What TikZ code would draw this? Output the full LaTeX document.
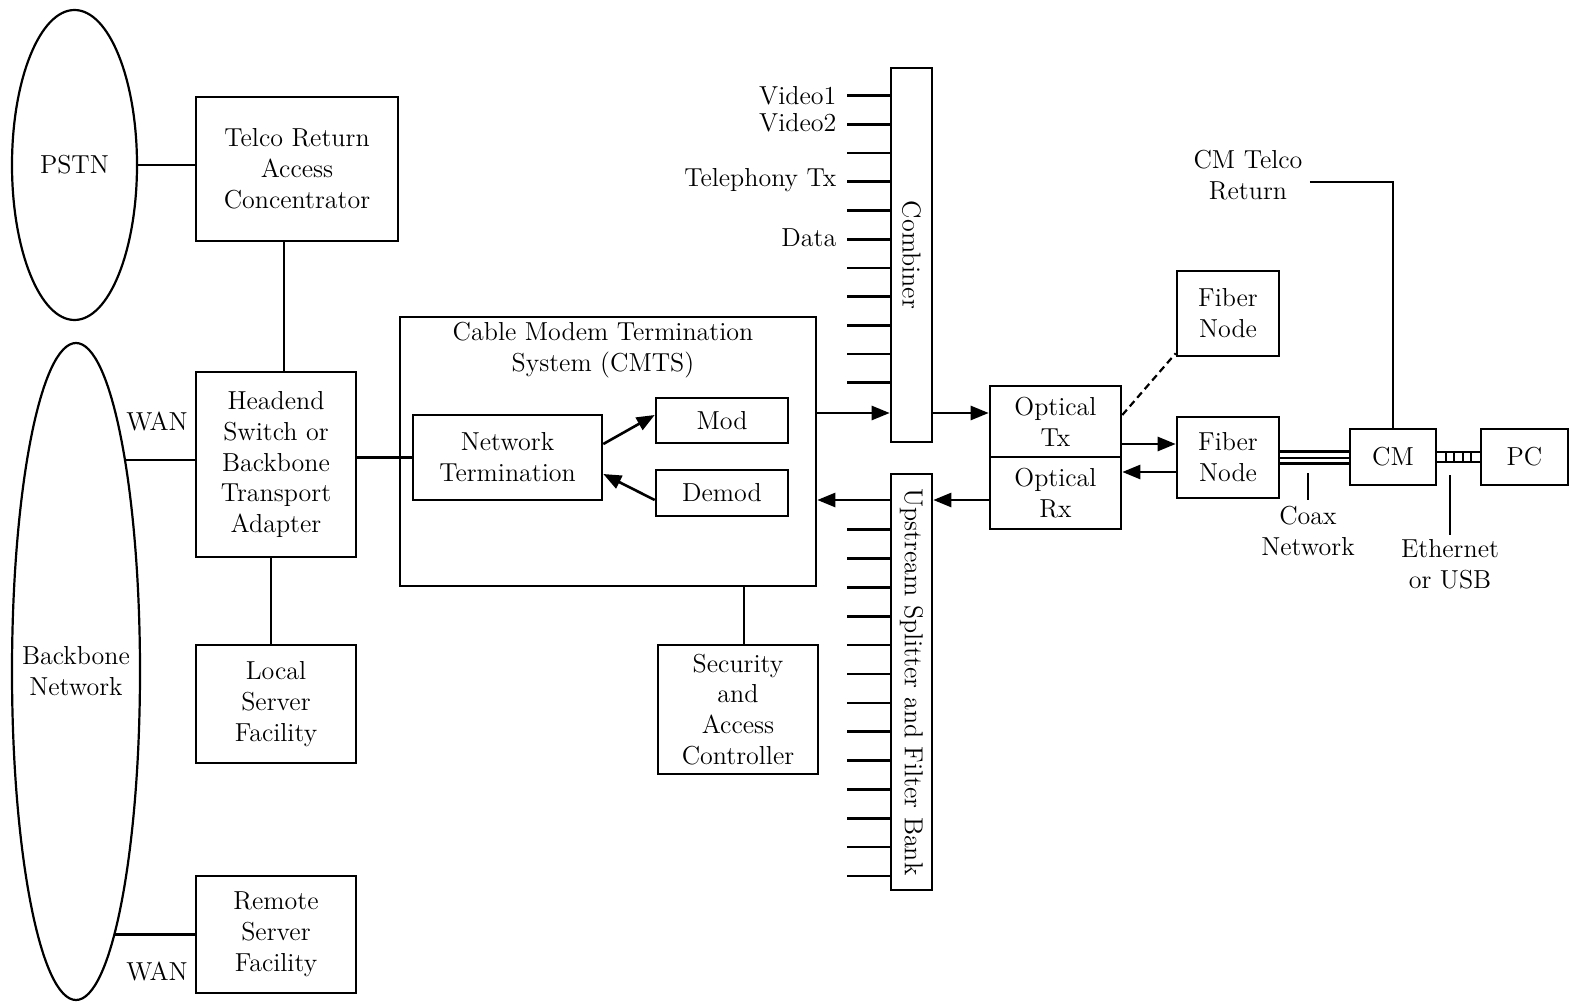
\documentclass[tikz,border=0pt]{standalone}
\usetikzlibrary{arrows.meta,shapes.geometric}
\newcommand\dfont{\fontsize{13pt}{15.4pt}\selectfont}
\begin{document}
\begin{tikzpicture}[x=0.5pt,y=-0.5pt,
  box/.style={draw, line width=1.3pt, inner sep=0pt, align=center, font=\dfont},
  oval/.style={draw, ellipse, line width=1.1pt, inner sep=0pt},
  txt/.style={inner sep=0pt, align=center, font=\dfont},
  wire/.style={line width=1.3pt},
  thinwire/.style={line width=1pt},
  arr/.style={wire, -{Triangle[length=9pt,width=7pt]}},
  dashwire/.style={line width=1.1pt, dash pattern=on 3.5pt off 2.2pt}]
\useasboundingbox (0,0) rectangle (1570,1006);

% networks
\node[oval, minimum width=62.5pt, minimum height=155pt] (pstn) at (74.5,165) {};
\node[txt] (pstntxt) at (pstn.center) {PSTN};
\node[oval, minimum width=64pt, minimum height=328.5pt] (backbone) at (76,671.5) {};
\node[txt] (bbtxt) at (backbone.center) {Backbone\\Network};

% headend equipment
\node[box, minimum width=101pt, minimum height=72pt] (telco) at (297,169) {Telco Return\\Access\\Concentrator};
\node[box, minimum width=80pt, minimum height=92.5pt] (headend) at (276,464.5) {Headend\\Switch or\\Backbone\\Transport\\Adapter};
\node[box, minimum width=80pt, minimum height=59pt] (local) at (276,704) {Local\\Server\\Facility};
\node[box, minimum width=80pt, minimum height=58.5pt] (remote) at (276,934.5) {Remote\\Server\\Facility};

% CMTS
\node[box, minimum width=208pt, minimum height=134.5pt] (cmts) at (608,451.5) {};
\node[txt] (cmtstitle) at (603,350) {Cable Modem Termination\\System (CMTS)};
\node[box, minimum width=94.5pt, minimum height=42.5pt] (nt) at (507.5,457.5) {Network\\Termination};
\node[box, minimum width=66pt, minimum height=22.5pt] (mod) at (722,420.5) {Mod};
\node[box, minimum width=66pt, minimum height=23pt] (demod) at (722,493) {Demod};
\node[box, minimum width=80pt, minimum height=64.5pt] (sec) at (738,709.5) {Security\\and\\Access\\Controller};

% combiner and splitter
\node[box, minimum width=20.5pt, minimum height=187pt] (comb) at (911.5,255) {};
\node[txt, rotate=-90] (combtxt) at (comb.center) {Combiner};
\node[box, minimum width=20.5pt, minimum height=208pt] (split) at (911.5,682) {};
\node[txt, rotate=-90] (splittxt) at (split.center) {Upstream Splitter and Filter Bank};

% optics and plant
\node[box, minimum width=65.5pt, minimum height=35.5pt] (otx) at (1055.5,421.5) {Optical\\Tx};
\node[box, minimum width=65.5pt, minimum height=36pt] (orx) at (1055.5,493) {Optical\\Rx};
\node[box, minimum width=51pt, minimum height=42.5pt] (fn1) at (1228,313.5) {Fiber\\Node};
\node[box, minimum width=51pt, minimum height=40.5pt] (fn2) at (1228,457.5) {Fiber\\Node};
\node[box, minimum width=43pt, minimum height=28pt] (cm) at (1393,457) {CM};
\node[box, minimum width=43.5pt, minimum height=28pt] (pc) at (1524.5,457) {PC};

% free labels
\node[txt] (wan1) at (157,421) {WAN};
\node[txt] (wan2) at (157,971) {WAN};
\node[txt] (cmtr) at (1248,175) {CM Telco\\Return};
\node[txt] (coaxlbl) at (1308,531) {Coax\\Network};
\node[txt] (ethlbl) at (1450,564) {Ethernet\\or USB};

% combiner inputs
\foreach \i in {0,...,10}
  \draw[wire] ([yshift={-(14.5+14.35*\i)*1pt}]comb.north west) -- ++(-43,0) coordinate (cin\i);
\node[txt, anchor=east] (v1) at ([xshift=-5pt]cin0) {Video1};
\node[txt, anchor=east] (v2) at ([xshift=-5pt,yshift=1pt]cin1) {Video2};
\node[txt, anchor=east] (tel) at ([xshift=-5pt,yshift=1pt]cin3) {Telephony Tx};
\node[txt, anchor=east] (data) at ([xshift=-5pt,yshift=0.5pt]cin5) {Data};

% splitter outputs
\foreach \i in {0,...,12}
  \draw[wire] ([yshift={-(28.5+14.425*\i)*1pt}]split.north west) -- ++(-43,0);

% left side links
\draw[wire] (pstn.east) -- (pstn.east -| telco.west);
\draw[wire] ([xshift=-6.5pt]telco.south) -- ([xshift=4pt]headend.north);
\coordinate (w1) at ([yshift=2.25pt]headend.west);
\draw[wire] (w1) -- (w1 -| backbone.77);
\draw[wire] (remote.west) -- (remote.west -| backbone.-82);
\draw[wire] (headend.east |- nt.west) -- (nt.west);
\draw[wire] ([xshift=-2.5pt]headend.south) -- ([xshift=-2.5pt]local.north);
\coordinate (s1) at ([xshift=3pt]sec.north);
\draw[wire] (s1 |- cmts.south) -- (s1);

% inside the CMTS
\draw[arr] ([yshift=6.75pt]nt.east) -- ([yshift=2.75pt]mod.west);
\draw[arr] ([yshift=-3.5pt]demod.west) -- ([yshift=-8.25pt]nt.east);

% downstream / upstream paths
\coordinate (c1) at ([yshift=19.25pt]cmts.east);
\draw[arr] (c1) -- (c1 -| comb.west);
\draw[arr] (c1 -| comb.east) -- (c1 -| otx.west);
\coordinate (r1) at ([yshift=-3.5pt]orx.west);
\draw[arr] (r1) -- (r1 -| split.east);
\draw[arr] (r1 -| split.west) -- (r1 -| cmts.east);
\coordinate (f1) at ([yshift=6.75pt]fn2.west);
\draw[arr] (f1 -| otx.east) -- (f1);
\coordinate (f2) at ([yshift=-7.25pt]fn2.west);
\draw[arr] (f2) -- (f2 -| orx.east);
\draw[dashwire] ([yshift=3.25pt]otx.east) -- ([yshift=2pt]fn1.south west);

% coax cable
\coordinate (k1) at ([yshift=3pt]fn2.east);
\coordinate (k2) at (fn2.east);
\coordinate (k3) at ([yshift=-3pt]fn2.east);
\draw[wire] (k1) -- (k1 -| cm.west);
\draw[thinwire] (k2) -- (k2 -| cm.west);
\draw[wire] (k3) -- (k3 -| cm.west);
\draw[thinwire] ([yshift=3pt]coaxlbl.north) -- ++(0,-27);

% ethernet / USB link
\coordinate (e1) at ([yshift=2.5pt]cm.east);
\coordinate (e2) at ([yshift=-2.5pt]cm.east);
\draw[thinwire] (e1) -- (e1 -| pc.west);
\draw[thinwire] (e2) -- (e2 -| pc.west);
\foreach \dx in {9,17,26,34}
  \draw[thinwire] ([xshift={\dx*0.5pt}]e1) -- ([xshift={\dx*0.5pt}]e2);
\draw[thinwire] ([yshift=2pt]ethlbl.north) -- ++(0,-60);

% CM telco return
\coordinate (t1) at ([xshift=3.5pt,yshift=-3.5pt]cmtr.east);
\draw[wire] (t1) -- (t1 -| cm.north) -- (cm.north);
\end{tikzpicture}
\end{document}
